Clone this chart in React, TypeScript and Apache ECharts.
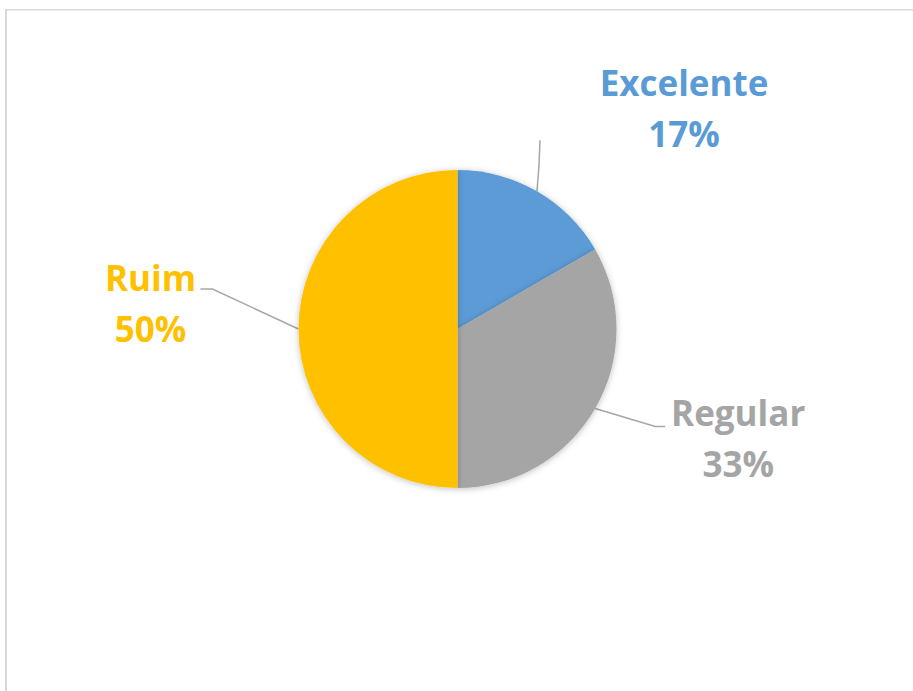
import React, { useEffect, useRef } from "react";
import * as echarts from "echarts";

const categories = ["Excelente", "Regular", "Ruim"];
const values = [1, 2, 3];
const colors = ["#5B9BD5", "#A5A5A5", "#FFC000"];

// label placement offsets relative to the slice's edge point (dx, dy) and line bends
const labelOffsets = [
  { dx: 147, dy: -83, line: [[2, -26], [3, -51]] },
  { dx: 143, dy: 29, line: [[60, 18], [70, 18]] },
  { dx: -148, dy: -26, line: [[-86, -40], [-98, -40]] },
];

export default function App() {
  const ref = useRef<HTMLDivElement>(null);
  useEffect(() => {
    const chart = echarts.init(ref.current!, null, { renderer: "svg" });
    chart.setOption({
      animation: false,
      backgroundColor: "#ffffff",
      graphic: [
        { type: "rect", shape: { x: 5, y: 9, width: 920, height: 1.5 }, style: { fill: "#d9d9d9" }, silent: true },
        { type: "rect", shape: { x: 5, y: 9, width: 2, height: 700 }, style: { fill: "#d9d9d9" }, silent: true },
      ],
      series: [
        {
          type: "pie",
          center: [457.5, 329],
          radius: 159,
          startAngle: 90,
          clockwise: true,
          percentPrecision: 0,
          data: categories.map((c, i) => ({
            name: c,
            value: values[i],
            itemStyle: { color: colors[i] },
            label: { color: colors[i] },
          })),
          itemStyle: {
            shadowBlur: 6,
            shadowColor: "rgba(0,0,0,0.25)",
            shadowOffsetY: 1,
          },
          label: {
            show: true,
            position: "outside",
            formatter: "{b}\n{d}%",
            fontFamily: "'Open Sans', Lato, sans-serif",
            fontWeight: "bold",
            fontSize: 35,
            lineHeight: 51,
            align: "center",
          },
          labelLine: {
            show: true,
            lineStyle: { color: "#A6A6A6", width: 1.5 },
          },
          labelLayout: (params: any) => {
            const i = params.dataIndex;
            const o = labelOffsets[i];
            const p0 = params.labelLinePoints ? params.labelLinePoints[0] : [0, 0];
            return {
              x: p0[0] + o.dx,
              y: p0[1] + o.dy,
              align: "center",
              verticalAlign: "middle",
              labelLinePoints: [
                [p0[0], p0[1]],
                [p0[0] + o.line[0][0], p0[1] + o.line[0][1]],
                [p0[0] + o.line[1][0], p0[1] + o.line[1][1]],
              ],
            };
          },
          emphasis: { disabled: true },
        },
      ],
    });
    return () => chart.dispose();
  }, []);
  return (
    <div
      ref={ref}
      style={{ position: "absolute", left: 0, top: 0, width: 913, height: 691 }}
    />
  );
}
